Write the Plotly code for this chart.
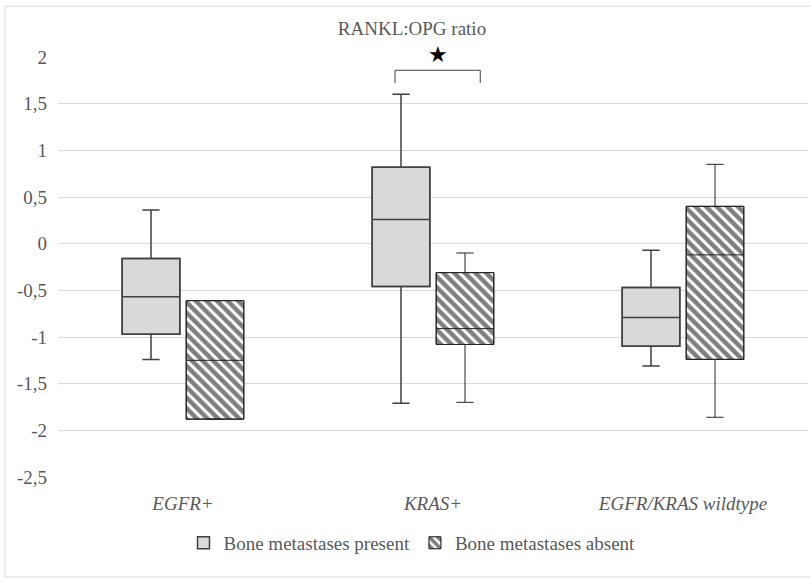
import plotly.graph_objects as go

categories = ["EGFR+", "KRAS+", "EGFR/KRAS wildtype"]

present_upper = [0.36, 1.60, -0.07]
present_q3 = [-0.16, 0.82, -0.47]
present_median = [-0.57, 0.26, -0.79]
present_q1 = [-0.97, -0.46, -1.10]
present_lower = [-1.24, -1.71, -1.31]

absent_upper = [-0.61, -0.10, 0.85]
absent_q3 = [-0.61, -0.31, 0.40]
absent_median = [-1.25, -0.91, -0.12]
absent_q1 = [-1.88, -1.08, -1.24]
absent_lower = [-1.88, -1.70, -1.86]

tick_vals = [2, 1.5, 1, 0.5, 0, -0.5, -1, -1.5, -2, -2.5]
tick_text = ["2", "1,5", "1", "0,5", "0", "-0,5", "-1", "-1,5", "-2", "-2,5"]

series_names = ["Bone metastases present", "Bone metastases absent"]

FONT = "Liberation Serif, serif"
GREY_TXT = "#595959"
FS = 19

fig = go.Figure()

# Filled boxes (bars from Q1 to Q3) - carry the legend
fig.add_trace(go.Bar(
    x=categories, base=present_q1,
    y=[b - a for a, b in zip(present_q1, present_q3)],
    name=series_names[0],
    marker=dict(color="#d9d9d9", line=dict(color="#404040", width=1.5)),
    hoverinfo="skip",
))
fig.add_trace(go.Bar(
    x=categories, base=absent_q1,
    y=[b - a for a, b in zip(absent_q1, absent_q3)],
    name=series_names[1],
    marker=dict(color="white", line=dict(color="#111111", width=1),
                pattern=dict(shape="\\", fgcolor="black", bgcolor="white",
                             size=7.5, solidity=0.6)),
    hoverinfo="skip",
))

# Box outlines, whiskers, medians
fig.add_trace(go.Box(
    x=categories, q1=present_q1, median=present_median, q3=present_q3,
    lowerfence=present_lower, upperfence=present_upper,
    boxpoints=False, fillcolor="rgba(0,0,0,0)",
    line=dict(color="#404040", width=1.5), whiskerwidth=0.3,
    showlegend=False, name=series_names[0],
))
fig.add_trace(go.Box(
    x=categories, q1=absent_q1, median=absent_median, q3=absent_q3,
    lowerfence=absent_lower, upperfence=absent_upper,
    boxpoints=False, fillcolor="rgba(0,0,0,0)",
    line=dict(color="#262626", width=1), whiskerwidth=0.3,
    showlegend=False, name=series_names[1],
))

# significance bracket and star over KRAS+
bx0, bx1, by_top, by_bot = 0.848, 1.189, 1.858, 1.722
line_style = dict(color="#404040", width=1)
fig.add_shape(type="line", xref="x", yref="y", x0=bx0, x1=bx1, y0=by_top, y1=by_top, line=line_style)
fig.add_shape(type="line", xref="x", yref="y", x0=bx0, x1=bx0, y0=by_top, y1=by_bot, line=line_style)
fig.add_shape(type="line", xref="x", yref="y", x0=bx1, x1=bx1, y0=by_top, y1=by_bot, line=line_style)
fig.add_annotation(x=1.02, y=1.006, xref="x", yref="paper", text="★", showarrow=False,
                   yanchor="middle",
                   font=dict(family="DejaVu Sans", size=22, color="black"))

# outer chart border
fig.add_shape(type="rect", xref="paper", yref="paper",
              x0=-0.0707, x1=1.01, y0=-0.238, y1=1.121,
              line=dict(color="#d9d9d9", width=1), layer="below")

fig.update_layout(
    width=811, height=578,
    margin=dict(l=58, r=3, t=57, b=101),
    paper_bgcolor="white", plot_bgcolor="white",
    barmode="group", bargap=0.488, bargroupgap=0.1,
    boxmode="group", boxgap=0.488, boxgroupgap=0.1,
    title=dict(text="RANKL:OPG ratio", xref="container", x=0.508, xanchor="center",
               y=1 - 28 / 578, yanchor="middle",
               font=dict(family=FONT, size=FS, color=GREY_TXT)),
    font=dict(family=FONT, size=FS, color=GREY_TXT),
    showlegend=True,
    legend=dict(orientation="h", x=0.472, xanchor="center", y=-0.157, yanchor="middle",
                font=dict(family=FONT, size=FS, color=GREY_TXT),
                bgcolor="rgba(0,0,0,0)"),
    xaxis=dict(type="category", showgrid=False, showline=False, zeroline=False,
               ticks="", tickfont=dict(family=FONT, size=FS, color=GREY_TXT, style="italic"),
               ticklabelstandoff=13),
    yaxis=dict(range=[-2.5, 2], tickvals=tick_vals, ticktext=tick_text,
               showgrid=True, gridcolor="#d9d9d9", gridwidth=1,
               zeroline=False, showline=False, ticks="",
               tickfont=dict(family=FONT, size=FS, color=GREY_TXT),
               ticklabelstandoff=10),
)

fig.write_html("out.html")
